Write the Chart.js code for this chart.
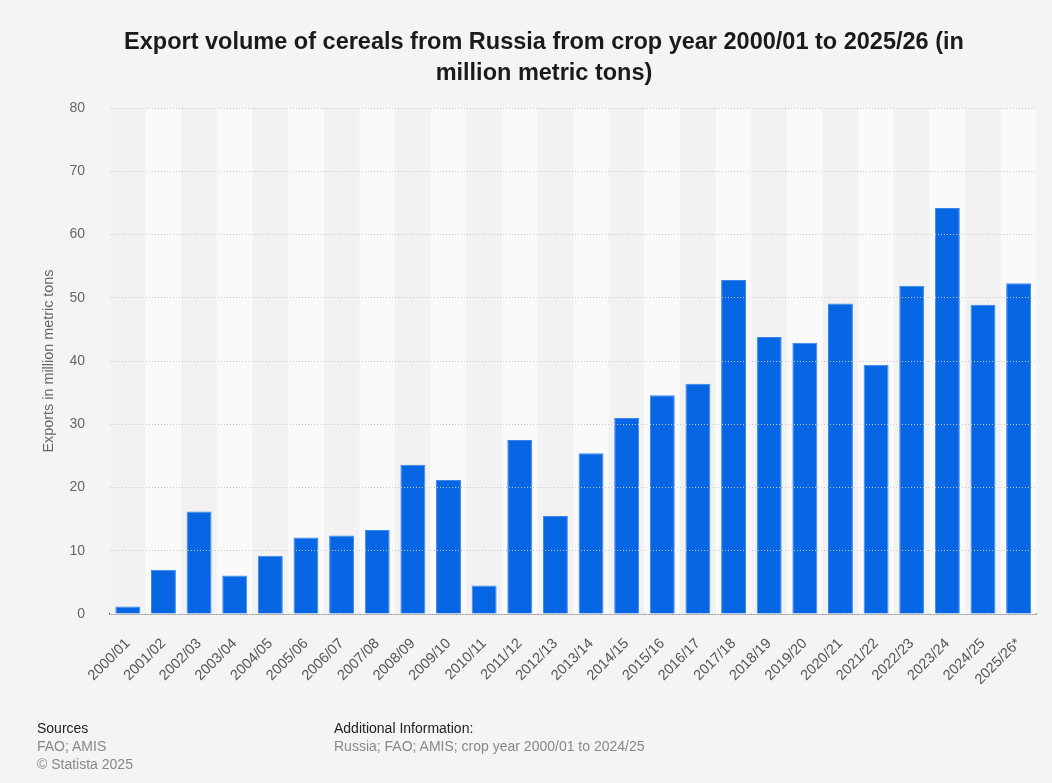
<!DOCTYPE html>
<html>
<head>
<meta charset="utf-8">
<script src="https://cdn.jsdelivr.net/npm/chart.js@4/dist/chart.umd.min.js"></script>
<style>
  html, body { margin: 0; padding: 0; background: #f4f4f4; }
  #wrap { position: relative; width: 1052px; height: 783px; font-family: "Liberation Sans", Arial, sans-serif; }
  #grafico { position: absolute; left: 0; top: 0; }
  .rodape { position: absolute; font-size: 14px; line-height: 18px; color: #888; }
  .rodape b { font-weight: normal; color: #222; }
</style>
</head>
<body>
<div id="wrap">
  <canvas id="grafico" width="1052" height="783"></canvas>
  <div class="rodape" style="left:37px; top:719px;">
    <b>Sources</b><br>FAO; AMIS<br>© Statista 2025
  </div>
  <div class="rodape" style="left:334px; top:719px;">
    <b>Additional Information:</b><br>Russia; FAO; AMIS; crop year 2000/01 to 2024/25
  </div>
</div>
<script>
var safras = ["2000/01", "2001/02", "2002/03", "2003/04", "2004/05", "2005/06", "2006/07",
  "2007/08", "2008/09", "2009/10", "2010/11", "2011/12", "2012/13", "2013/14", "2014/15",
  "2015/16", "2016/17", "2017/18", "2018/19", "2019/20", "2020/21", "2021/22", "2022/23",
  "2023/24", "2024/25", "2025/26*"];
var exportacoes = [1.2, 7.0, 16.2, 6.1, 9.2, 12.1, 12.4, 13.3, 23.6, 21.2, 4.5, 27.5, 15.5,
  25.4, 31.0, 34.6, 36.4, 52.8, 43.8, 42.9, 49.1, 39.4, 51.9, 64.2, 48.9, 52.3];
var ticksY = [0, 10, 20, 30, 40, 50, 60, 70, 80];

var titulo = ["Export volume of cereals from Russia from crop year 2000/01 to 2025/26 (in",
  "million metric tons)"];

// faixas verticais alternadas atrás das barras
var faixas = {
  id: "faixas",
  beforeDatasetsDraw: function (chart) {
    var ctx = chart.ctx;
    var area = chart.chartArea;
    var x = chart.scales.x;
    var passo = (area.right - area.left) / safras.length;
    ctx.save();
    safras.forEach(function (s, i) {
      ctx.fillStyle = i % 2 == 0 ? "#f2f2f2" : "#fafafa";
      var cx = x.getPixelForValue(i);
      ctx.fillRect(cx - passo / 2, area.top, passo, area.bottom - area.top);
    });
    ctx.restore();
  },
};

Chart.defaults.font.family = "'Liberation Sans', Arial, sans-serif";

new Chart(document.getElementById("grafico"), {
  type: "bar",
  data: {
    labels: safras,
    datasets: [
      {
        data: exportacoes,
        backgroundColor: "#0766e3",
        borderColor: "#3c86ea",
        borderWidth: 1,
        barPercentage: 0.7,
        categoryPercentage: 1,
      },
    ],
  },
  options: {
    responsive: false,
    animation: false,
    layout: {
      padding: { top: 27, right: 4, bottom: 69, left: 40 },
    },
    plugins: {
      legend: { display: false },
      tooltip: { enabled: false },
      title: {
        display: true,
        text: titulo,
        color: "#1a1a1a",
        font: { size: 23.5, weight: "bold", lineHeight: 1.32 },
        padding: { top: 0, bottom: 19 },
      },
    },
    scales: {
      x: {
        afterFit: function (axis) { axis.height = 100; },
        grid: { display: false, drawTicks: false },
        border: { display: true, color: "#555", width: 1.5 },
        ticks: {
          color: "#555",
          font: { size: 14.5 },
          maxRotation: 45,
          minRotation: 45,
          autoSkip: false,
          padding: 21,
        },
      },
      y: {
        min: 0,
        max: 80,
        afterFit: function (axis) { axis.width = 70; },
        afterBuildTicks: function (axis) {
          axis.ticks = ticksY.map(function (v) { return { value: v }; });
        },
        grid: { color: "#c8c8c8", drawTicks: false, z: 1 },
        border: { display: false, dash: [1, 2] },
        ticks: { color: "#666", font: { size: 14 }, padding: 25 },
        title: {
          display: true,
          text: "Exports in million metric tons",
          color: "#666",
          font: { size: 14.4 },
          padding: { top: 0, bottom: 0 },
        },
      },
    },
  },
  plugins: [faixas],
});
</script>
</body>
</html>
